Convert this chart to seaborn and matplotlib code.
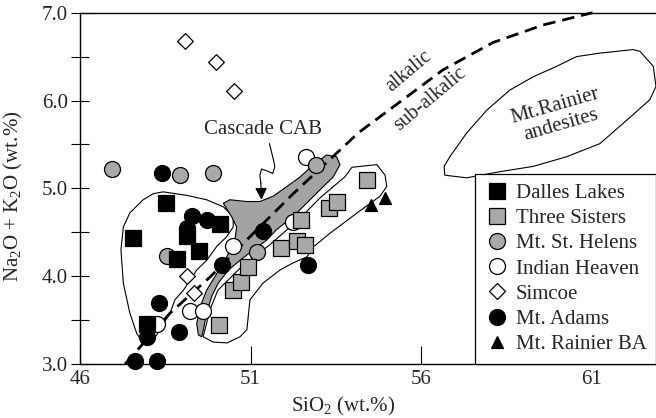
import matplotlib
matplotlib.use("Agg")
import matplotlib.pyplot as plt
import seaborn as sns
import pandas as pd
from matplotlib.lines import Line2D
from matplotlib.patches import Polygon
from matplotlib.ticker import FixedLocator, MultipleLocator

# ---------------- data ----------------
dalles_x = [48.52, 47.56, 50.10, 49.14, 49.50, 48.85, 47.97]
dalles_y = [4.83, 4.44, 4.59, 4.46, 4.29, 4.20, 3.46]

sisters_x = [50.08, 50.49, 50.71, 50.91, 51.88, 52.35, 52.59, 52.49, 53.31, 53.52, 54.42]
sisters_y = [3.44, 3.84, 3.93, 4.10, 4.32, 4.40, 4.35, 4.64, 4.78, 4.85, 5.10]

helens_x = [46.93, 48.93, 49.89, 52.91, 48.56, 51.18]
helens_y = [5.22, 5.15, 5.18, 5.27, 4.23, 4.27]

indian_x = [52.62, 50.47, 49.22, 49.61, 48.27, 52.25]
indian_y = [5.36, 4.34, 3.60, 3.60, 3.46, 4.62]

simcoe_x = [49.08, 49.98, 50.51, 49.15, 49.34]
simcoe_y = [6.68, 6.44, 6.11, 4.00, 3.81]

adams_x = [48.39, 49.27, 49.71, 49.15, 50.15, 51.35, 52.69, 48.31, 48.91, 47.97, 47.61, 48.25]
adams_y = [5.17, 4.68, 4.64, 4.55, 4.13, 4.51, 4.13, 3.69, 3.37, 3.31, 3.03, 3.03]

rainier_x = [54.52, 54.94]
rainier_y = [4.81, 4.89]

# alkalic / sub-alkalic dividing line
divide_x = [47.32, 48.64, 49.81, 50.88, 52.25, 53.41, 54.15, 55.57, 56.64, 58.10, 59.57, 61.02]
divide_y = [3.00, 3.58, 3.99, 4.41, 4.94, 5.36, 5.63, 6.04, 6.35, 6.66, 6.86, 7.00]

# Cascade CAB field
cab_x = [49.47, 49.42, 49.52, 49.71, 50.01, 50.30, 50.54, 50.59, 50.44, 50.20, 50.39, 50.88,
         51.27, 51.66, 52.06, 52.45, 52.84, 53.23, 53.52, 53.62, 53.42, 53.13, 52.74, 52.25,
         51.76, 51.47, 51.08, 50.69, 50.35, 50.05, 49.86, 49.71, 49.63, 49.57]
cab_y = [3.33, 3.46, 3.65, 3.84, 4.03, 4.22, 4.41, 4.56, 4.68, 4.83, 4.87, 4.85,
         4.85, 4.91, 5.02, 5.13, 5.27, 5.38, 5.36, 5.27, 5.13, 5.02, 4.87, 4.68,
         4.53, 4.41, 4.30, 4.18, 4.07, 3.92, 3.77, 3.58, 3.42, 3.31]

# low-silica field
field1_x = [48.44, 49.13, 49.71, 50.20, 50.49, 50.49, 50.30, 50.01, 49.71, 49.42, 49.03, 48.78,
            48.64, 48.34, 48.15, 47.85, 47.66, 47.46, 47.27, 47.20, 47.27, 47.46, 47.85, 48.15]
field1_y = [4.96, 4.92, 4.87, 4.79, 4.68, 4.56, 4.45, 4.34, 4.18, 4.07, 3.84, 3.73,
            3.58, 3.39, 3.27, 3.24, 3.35, 3.58, 3.92, 4.30, 4.56, 4.72, 4.87, 4.94]

# higher-silica field
field2_x = [49.61, 49.81, 50.04, 50.69, 51.57, 52.45, 53.03, 53.76, 53.97, 54.70, 54.94, 54.99,
            54.79, 54.12, 53.33, 52.83, 52.65, 52.24, 51.86, 51.36, 50.98, 50.89, 50.69, 50.31, 49.90]
field2_y = [3.31, 3.62, 3.84, 4.09, 4.36, 4.66, 4.89, 5.13, 5.24, 5.27, 5.15, 5.02,
            4.91, 4.72, 4.49, 4.33, 4.22, 4.15, 4.07, 3.92, 3.73, 3.39, 3.31, 3.24, 3.25]

# Mt. Rainier andesite field
andes_x = [56.69, 56.67, 56.84, 57.33, 57.92, 58.60, 59.28, 59.97, 60.55, 61.24, 62.21, 62.41,
           62.80, 62.88, 62.70, 62.21, 61.24, 60.26, 59.28, 58.31, 57.33]
andes_y = [5.15, 5.25, 5.36, 5.63, 5.89, 6.12, 6.27, 6.39, 6.50, 6.54, 6.58, 6.56,
           6.39, 6.16, 6.01, 5.84, 5.51, 5.36, 5.25, 5.19, 5.12]

# squiggle leading from the CAB label to the field
pointer_x = [51.55, 51.66, 51.71, 51.65, 51.47, 51.32, 51.27, 51.30]
pointer_y = [5.51, 5.34, 5.25, 5.17, 5.20, 5.22, 5.15, 5.06]
pointer_tip = (51.32, 4.87)

x_ticks = [46, 51, 56, 61]
y_ticks = [3.0, 4.0, 5.0, 6.0, 7.0]

# ---------------- style ----------------
sns.set_theme(style="white")
plt.rcParams["font.family"] = ["Liberation Serif", "DejaVu Serif"]
plt.rcParams["mathtext.fontset"] = "custom"
plt.rcParams["mathtext.rm"] = "Liberation Serif"
plt.rcParams["mathtext.it"] = "Liberation Serif:italic"

GRAY = "#a9a9a9"
BAND = "#a3a3a3"
FS = 15

fig = plt.figure(figsize=(6.56, 4.18), dpi=100)
ax = fig.add_axes([80 / 656, 1 - 364 / 418, 576 / 656, (364 - 12.7) / 418])
ax.set_xlim(46, 62.88)
ax.set_ylim(3.0, 7.0)

# fields
ax.add_patch(Polygon(list(zip(field1_x, field1_y)), closed=True, fill=False,
                     edgecolor="black", lw=0.8, zorder=1))
ax.add_patch(Polygon(list(zip(field2_x, field2_y)), closed=True, fill=False,
                     edgecolor="black", lw=0.8, zorder=1))
ax.add_patch(Polygon(list(zip(andes_x, andes_y)), closed=True, fill=False,
                     edgecolor="black", lw=0.8, zorder=1))
ax.add_patch(Polygon(list(zip(cab_x, cab_y)), closed=True, facecolor=BAND,
                     edgecolor="black", lw=0.8, zorder=2))

# dividing line
sns.lineplot(x=divide_x, y=divide_y, ax=ax, color="black", lw=2.0, sort=False,
             dashes=False, zorder=3, clip_on=False)
ax.lines[-1].set_dashes((4.5, 2.5))

# samples
groups = [
    ("Indian Heaven", indian_x, indian_y, "o", "white", 11.5),
    ("Mt. St. Helens", helens_x, helens_y, "o", GRAY, 11.5),
    ("Dalles Lakes", dalles_x, dalles_y, "s", "black", 11.2),
    ("Three Sisters", sisters_x, sisters_y, "s", GRAY, 11.2),
    ("Simcoe", simcoe_x, simcoe_y, "D", "white", 8.0),
    ("Mt. Adams", adams_x, adams_y, "o", "black", 11.5),
    ("Mt. Rainier BA", rainier_x, rainier_y, "^", "black", 8.6),
]
for name, xs, ys, mk, fc, ms in groups:
    df = pd.DataFrame({"x": xs, "y": ys})
    sns.scatterplot(data=df, x="x", y="y", ax=ax, marker=mk, color=fc,
                    edgecolor="black", linewidth=0.9, s=ms ** 2, zorder=4,
                    clip_on=False, legend=False)

# annotations
ax.text(51.37, 5.67, "Cascade CAB", fontsize=FS, ha="center", va="center")
ax.plot(pointer_x, pointer_y, color="black", lw=0.8, zorder=3)
ax.annotate("", xy=pointer_tip, xytext=(pointer_x[-1], pointer_y[-1]),
            arrowprops=dict(arrowstyle="-|>", color="black", lw=0.8,
                            mutation_scale=18, shrinkA=0, shrinkB=0), zorder=3)
ax.text(55.64, 6.33, "alkalic", fontsize=14.5, ha="center", va="center",
        rotation=40, rotation_mode="anchor")
ax.text(56.25, 6.01, "sub-alkalic", fontsize=14.5, ha="center", va="center",
        rotation=40, rotation_mode="anchor")
ax.text(60.01, 5.83, "Mt.Rainier\nandesites", fontsize=FS, ha="center",
        va="center", rotation=16, rotation_mode="anchor", linespacing=1.05)

# axes styling
for side in ["left", "bottom", "top"]:
    ax.spines[side].set_visible(True)
    ax.spines[side].set_color("black")
    ax.spines[side].set_linewidth(1.0)
ax.spines["right"].set_visible(False)

ax.xaxis.set_major_locator(FixedLocator(x_ticks))
ax.yaxis.set_major_locator(FixedLocator(y_ticks))
ax.yaxis.set_minor_locator(MultipleLocator(0.5))
ax.set_xticklabels([str(t) for t in x_ticks])
ax.set_yticklabels([f"{t:.1f}" for t in y_ticks])
ax.tick_params(axis="x", which="major", direction="in", length=13, width=0.8,
               color="black", labelsize=FS, pad=4, bottom=True, top=False)
ax.tick_params(axis="y", which="both", direction="inout", length=13, width=0.8,
               color="black", labelsize=FS, pad=2, left=True, right=False)

ax.set_xlabel("SiO$_\\mathrm{2}$ (wt.%)", fontsize=FS)
ax.set_ylabel("Na$_\\mathrm{2}$O + K$_\\mathrm{2}$O (wt.%)", fontsize=FS)
ax.xaxis.set_label_coords(0.457, -0.088)
ax.yaxis.set_label_coords(-0.095, 0.478)

# legend
legend_order = ["Dalles Lakes", "Three Sisters", "Mt. St. Helens", "Indian Heaven",
                "Simcoe", "Mt. Adams", "Mt. Rainier BA"]
style = {g[0]: g for g in groups}
handles = []
for name in legend_order:
    _, _, _, mk, fc, ms = style[name]
    handles.append(Line2D([], [], ls="none", marker=mk, markerfacecolor=fc,
                          markeredgecolor="black", markeredgewidth=0.9,
                          markersize=ms, label=name))
leg = ax.legend(handles=handles, loc="upper left", bbox_to_anchor=(0.686, 0.541),
                fontsize=FS, frameon=True, fancybox=False, framealpha=1,
                edgecolor="black", borderpad=0.45, labelspacing=0.27,
                handletextpad=0.3, handlelength=1.2, borderaxespad=0)
leg.get_frame().set_linewidth(0.9)
leg.set_zorder(10)

fig.savefig("out.png", dpi=100)
